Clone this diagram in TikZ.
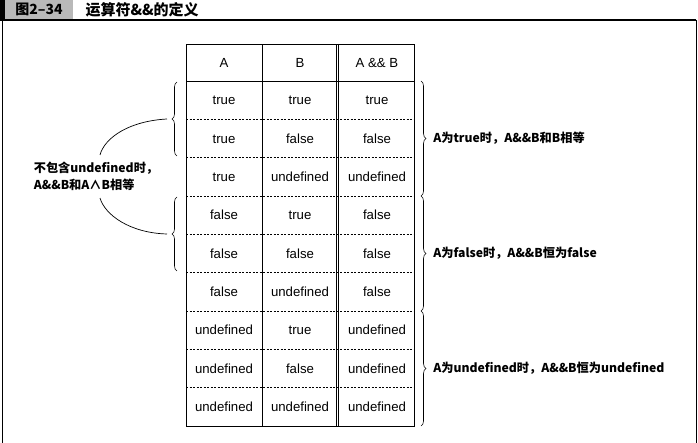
\documentclass[tikz,border=0pt]{standalone}
\usepackage{fontspec}
\setmainfont{Liberation Sans}
\newfontfamily\cjk{Noto Sans CJK SC}
\usetikzlibrary{decorations.pathreplacing}

\begin{document}
\begin{tikzpicture}[x=1pt, y=1pt, font=\fontsize{13.2}{15}\selectfont,
        cell/.style={inner sep=0pt, text height=9.4pt, text depth=0pt},
        note/.style={font=\cjk\bfseries\fontsize{12.2}{17}\selectfont, align=left, inner sep=0pt},
        bracedeco/.style={decorate, decoration={brace, amplitude=5pt}, line width=0.6pt},
        rowline/.style={dash pattern=on 2pt off 1.5pt, line width=0.6pt}]
        \useasboundingbox (0,0) rectangle (698,443);
        \fill (0,424) rectangle (5,443);
        \fill[gray!55] (5,424) rectangle (73,443);
        \node[font=\cjk\bfseries\fontsize{14}{16}\selectfont] (fig) at (39,433.5) {图2–34};
        \node[font=\cjk\bfseries\fontsize{15}{17}\selectfont, anchor=west] (title) at (82,433.5) {运算符\&\&的定义};
        \draw[line width=1.2pt] (0,423) -- (696,423);
        \draw[line width=0.8pt] (2.5,423) -- (2.5,0) (696,423) -- (696,0);
        \draw[line width=0.8pt] (186,17) rectangle (414,399);
        \draw[line width=0.8pt] (186,362) -- (414,362) (262,17) -- (262,399);
        \draw[line width=0.6pt] (336,17) -- (336,399) (338.5,17) -- (338.5,399);
        \foreach \i in {1,...,8} \draw[rowline] (186,{362-38.33*\i}) -- (414,{362-38.33*\i});
        \node[cell] (hA) at (224,380.5) {A};
        \node[cell] (hB) at (300,380.5) {B};
        \node[cell] (hAB) at (377,380.5) {A \&\& B};
        \foreach \a/\b/\c [count=\i] in {true/true/true, true/false/false, true/undefined/undefined,
            false/true/false, false/false/false, false/undefined/false,
            undefined/true/undefined, undefined/false/undefined, undefined/undefined/undefined} {
            \node[cell] (a\i) at (224,{362-38.33*(\i-0.5)}) {\a};
            \node[cell] (b\i) at (300,{362-38.33*(\i-0.5)}) {\b};
            \node[cell] (c\i) at (377,{362-38.33*(\i-0.5)}) {\c};
        }
        \draw[bracedeco] (421,362) -- (421,247) node[midway, anchor=west, xshift=12pt, note] (atrue) {A为true时，A\&\&B和B相等};
        \draw[bracedeco] (421,247) -- (421,132) node[midway, anchor=west, xshift=12pt, note] (afalse) {A为false时，A\&\&B恒为false};
        \draw[bracedeco] (421,132) -- (421,17) node[midway, anchor=west, xshift=12pt, note] (aundef) {A为undefined时，A\&\&B恒为undefined};
        \draw[bracedeco] (177,287) -- (177,361) coordinate[midway, xshift=-10pt] (tip1);
        \draw[bracedeco] (177,172) -- (177,246) coordinate[midway, xshift=-10pt] (tip2);
        \node[note] (cond) at (96,266.5) {不包含undefined时，\\A\&\&B和A∧B相等};
        \draw[line width=0.7pt] (tip1) .. controls (130,322) and (105,306) .. ([xshift=4pt, yshift=7pt]cond.north);
        \draw[line width=0.7pt] ([xshift=4pt, yshift=-7pt]cond.south) .. controls (105,228) and (130,210) .. (tip2);
\end{tikzpicture}
\end{document}
